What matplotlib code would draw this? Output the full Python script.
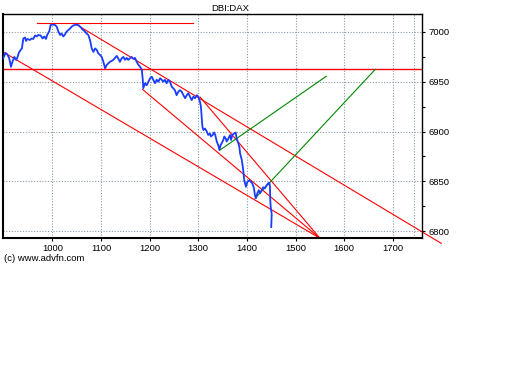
import matplotlib
matplotlib.use('Agg')
import matplotlib.pyplot as plt
from matplotlib.ticker import MultipleLocator

plt.rcParams['font.family'] = ['Liberation Sans', 'DejaVu Sans']

# price trace (x = bar index, y = DAX level)
price_x = [899, 904, 907.5, 911.5, 915, 918, 922, 925.5, 928, 931.5,
           935, 937.5, 940.5, 944, 946, 948.5, 954, 957.5, 961, 964.5,
           968, 971, 976, 980, 983.5, 987, 989.5, 994, 996.5, 1001,
           1005.5, 1009, 1012.5, 1016, 1019, 1022.5, 1026, 1029.5, 1033, 1036.5,
           1040, 1043, 1048.5, 1053.5, 1057, 1060.5, 1063.5, 1067, 1070.5, 1074,
           1077.5, 1081, 1084.5, 1088, 1091.5, 1094.5, 1098, 1101.5, 1105, 1108.5,
           1112, 1118.5, 1125.5, 1129, 1132.5, 1135.5, 1139, 1142.5, 1146, 1149.5,
           1153, 1156, 1159.5, 1163, 1166.5, 1170, 1173.5, 1177, 1180.5, 1184,
           1186, 1187, 1190.5, 1194, 1197.5, 1201, 1204.5, 1207.5, 1211, 1214.5,
           1218, 1221.5, 1225, 1228, 1231.5, 1235, 1238.5, 1242, 1245.5, 1248.5,
           1252, 1255.5, 1259, 1262.5, 1266, 1269.5, 1273, 1276.5, 1279.5, 1283,
           1286.5, 1290, 1293.5, 1297, 1300, 1303.5, 1305.5, 1307, 1308.5, 1310.5,
           1314, 1317.5, 1320.5, 1324, 1326, 1329.5, 1332.5, 1335, 1338, 1341,
           1343.5, 1346, 1348, 1351.5, 1353.5, 1356.5, 1358.5, 1362, 1365.5, 1367.5,
           1370, 1373.5, 1377, 1379, 1382.5, 1384.5, 1386, 1389.5, 1392.5, 1394.5,
           1398, 1401, 1405, 1408, 1411, 1414.5, 1416.5, 1418.5, 1421.5, 1424.5,
           1427, 1430.5, 1433.5, 1437, 1440.5, 1444, 1446, 1447.5, 1448, 1449,
           1451, 1450]
price_y = [6973.5, 6979, 6977.5, 6973.5, 6965, 6970, 6975, 6972, 6974, 6979.5,
           6982, 6983.5, 6993.5, 6994.5, 6991, 6993, 6992, 6993.5, 6993, 6996.5,
           6995.5, 6997, 6996.5, 6993.5, 6995.5, 6993, 6997, 7001, 7007, 7007.5,
           7007, 7005.5, 7000.5, 6997, 6998.5, 6995.5, 6997.5, 7000.5, 7002, 7003.5,
           7005.5, 7006.5, 7007.5, 7007, 7005.5, 7003.5, 7002, 7000.5, 6998.5, 6997,
           6992, 6983.5, 6980, 6983.5, 6982, 6978.5, 6977, 6975, 6970, 6963.5,
           6967, 6970, 6972, 6974, 6976, 6973.5, 6970, 6973.5, 6975, 6972,
           6974, 6972, 6973.5, 6975, 6973, 6974, 6970, 6967, 6965, 6962,
           6952, 6943.5, 6948.5, 6946.5, 6950, 6953.5, 6955, 6952, 6948.5, 6952,
           6950, 6953.5, 6952, 6950, 6952, 6948.5, 6952, 6950, 6945, 6943.5,
           6941.5, 6936.5, 6940, 6941.5, 6940, 6936.5, 6933.5, 6936.5, 6938.5, 6935,
           6931.5, 6935, 6933.5, 6936.5, 6935, 6930, 6925, 6915, 6905, 6901.5,
           6903, 6900, 6896.5, 6898, 6895, 6896.5, 6899, 6896.5, 6890, 6886.5,
           6881.5, 6886.5, 6888, 6891.5, 6895, 6893, 6890, 6893, 6896.5, 6891.5,
           6896.5, 6898, 6899, 6893, 6888, 6884.5, 6878, 6871.5, 6861, 6851,
           6844.5, 6849.5, 6851, 6849.5, 6848, 6843, 6836, 6833, 6838, 6841,
           6838, 6841, 6844, 6843, 6846, 6848, 6848.5, 6844.5, 6831, 6824,
           6817, 6804]

# trend lines drawn on the chart: (x0, y0, x1, y1)
red_lines = [
    (900.7, 6979.4, 1550.3, 6792.7),
    (1048.7, 7007.7, 1799.6, 6787.6),
    (1185.8, 6942.2, 1550.3, 6792.7),
    (1303.6, 6934.7, 1550.3, 6792.7),
    (968.6, 7008.7, 1289.2, 7008.7),
]
green_lines = [
    (1344.7, 6881.4, 1563.2, 6955.5),
    (1416.7, 6832.9, 1663.9, 6962.5),
]
resistance = 6962.5

x_ticks = [1000, 1100, 1200, 1300, 1400, 1500, 1600, 1700]
y_ticks = [6800, 6850, 6900, 6950, 7000]
x_range = (898.7, 1760)
y_range = (6793.5, 7017.8)

fig = plt.figure(figsize=(5.12, 3.84), dpi=100)
ax = fig.add_axes([0.0059, 0.3815, 0.8184, 0.5813])

for v in x_ticks + [1744]:
    ax.axvline(v, color='#8a9aa8', lw=0.8, ls=(0, (1, 1.5)), zorder=0)
for v in y_ticks:
    ax.axhline(v, color='#8a9aa8', lw=0.8, ls=(0, (1, 1.5)), zorder=0)

ax.axhline(resistance, color='#ff0000', lw=1.0, zorder=2)
for x0, y0, x1, y1 in red_lines:
    ax.plot([x0, x1], [y0, y1], color='#ff0000', lw=0.8, clip_on=False, zorder=2)
for x0, y0, x1, y1 in green_lines:
    ax.plot([x0, x1], [y0, y1], color='#008800', lw=0.8, clip_on=False, zorder=2)

ax.plot(price_x, price_y, color='#1a3cff', lw=1.3, zorder=3)

ax.set_xlim(*x_range)
ax.set_ylim(*y_range)
ax.set_xticks(x_ticks)
ax.set_yticks(y_ticks)
ax.yaxis.set_minor_locator(MultipleLocator(25))
ax.yaxis.tick_right()
ax.tick_params(axis='both', labelsize=6.8, length=2.5, width=0.8, pad=2, colors='black')
ax.tick_params(axis='y', which='minor', length=2, width=0.8)
for s in ax.spines.values():
    s.set_linewidth(1.0)
ax.spines['left'].set_linewidth(1.5)
ax.spines['bottom'].set_linewidth(1.5)

fig.text(0.45, 0.979, 'DBI:DAX', ha='center', va='center', fontsize=6.8)
fig.text(0.008, 0.327, '(c) www.advfn.com', ha='left', va='center', fontsize=6.8)

fig.savefig('out.png', dpi=100)
